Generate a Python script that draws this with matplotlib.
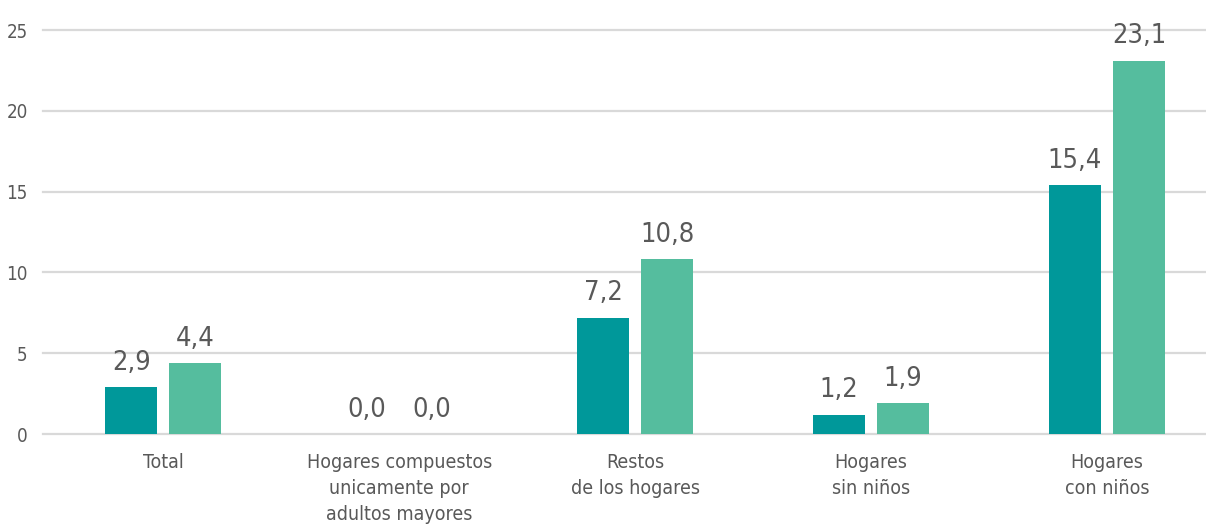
import matplotlib
matplotlib.use("Agg")
import matplotlib.pyplot as plt
import numpy as np

plt.rcParams['font.family'] = ['DejaVu Sans']
plt.rcParams['font.stretch'] = 'condensed'

categories = ["Total", "Hogares compuestos\nunicamente por\nadultos mayores",
              "Restos\nde los hogares", "Hogares\nsin niños", "Hogares\ncon niños"]
serie_a = [2.9, 0.0, 7.2, 1.2, 15.4]
serie_b = [4.4, 0.0, 10.8, 1.9, 23.1]
yticks = [0, 5, 10, 15, 20, 25]

c_a = "#00989a"
c_b = "#55bd9e"
txt = "#595959"

fig = plt.figure(figsize=(12.06, 5.25), dpi=100)
ax = fig.add_axes([43 / 1206, 1 - 434 / 525, 1 - 43 / 1206, (434 - 30) / 525])

x = np.arange(len(categories))
w = 0.22
off = 0.136
ba = ax.bar(x - off, serie_a, w, color=c_a, zorder=3)
bb = ax.bar(x + off, serie_b, w, color=c_b, zorder=3)

for bars in (ba, bb):
    for r in bars:
        h = r.get_height()
        ax.text(r.get_x() + r.get_width() / 2, h + 0.7, f"{h:.1f}".replace(".", ","),
                ha="center", va="bottom", fontsize=19.5, color=txt, clip_on=False)

ax.set_xlim(-0.51, 4.42)
ax.set_ylim(0, 25)
ax.set_yticks(yticks)
ax.set_yticklabels([str(t) for t in yticks], fontsize=13.5, color=txt)
ax.set_xticks(x)
ax.set_xticklabels(categories, fontsize=14, color=txt, linespacing=1.45)
ax.tick_params(axis="both", length=0)
ax.tick_params(axis="y", pad=11)
ax.tick_params(axis="x", pad=14)
ax.yaxis.grid(True, color="#d9d9d9", linewidth=1.6, zorder=0)
for gl in ax.get_ygridlines():
    gl.set_clip_on(False)
for s in ax.spines.values():
    s.set_visible(False)

fig.savefig("out.png", dpi=100)
